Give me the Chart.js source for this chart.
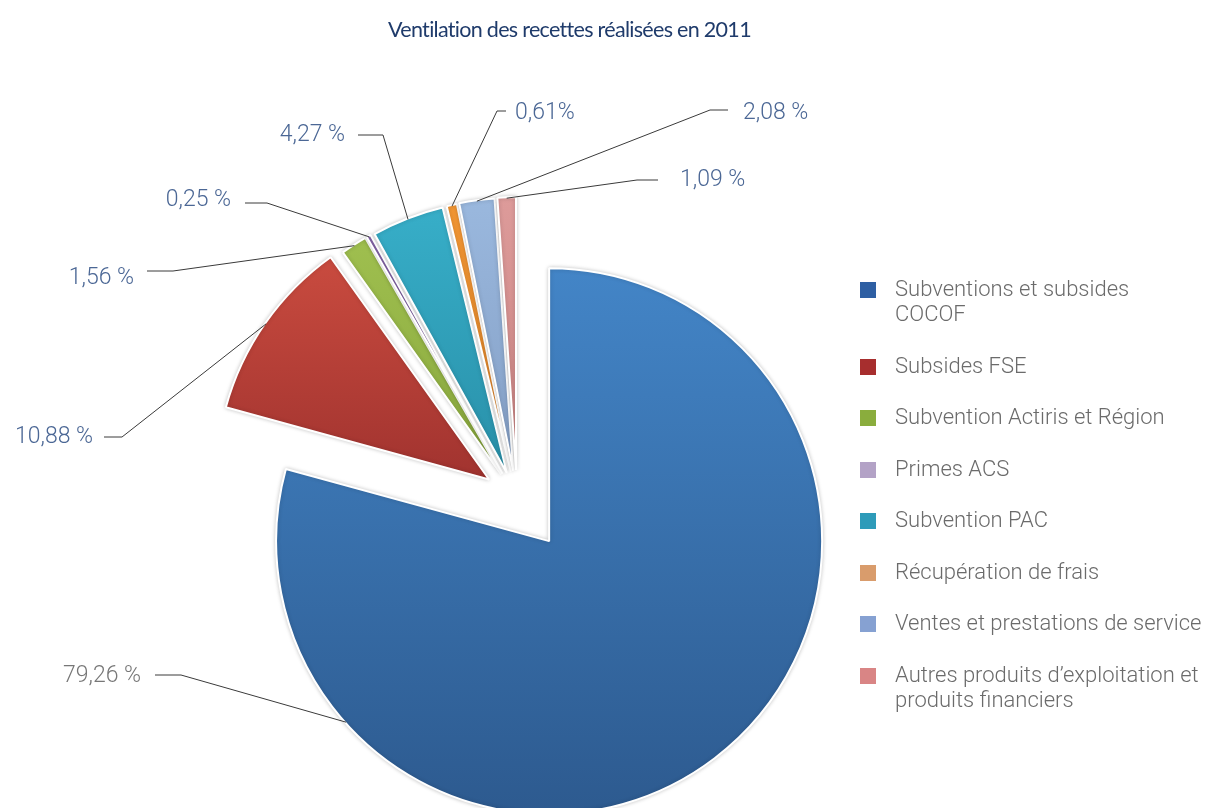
<!DOCTYPE html>
<html lang="fr">
<head>
<meta charset="utf-8">
<title>Ventilation des recettes réalisées en 2011</title>
<script src="https://cdn.jsdelivr.net/npm/chart.js@4.4.1/dist/chart.umd.min.js"></script>
<style>
    html, body { margin: 0; padding: 0; background: #fff; }
    #cadre { position: relative; width: 1207px; height: 808px; overflow: hidden; }
    #graphique { position: absolute; left: 0; top: 0; }
    #titre {
        position: absolute; left: 0; top: 16px; width: 1139px;
        text-align: center; font-family: Lato, sans-serif; font-size: 21.5px;
        letter-spacing: -0.7px; line-height: 26px; color: #1f3b6b;
    }
    #legende {
        position: absolute; left: 860px; top: 276px; margin: 0; padding: 0;
        list-style: none; font-family: Roboto, sans-serif; font-weight: 300;
        font-size: 22px; line-height: 25px; color: #6b6b6b;
    }
    #legende li { position: relative; padding-left: 35px; margin-bottom: 26.5px; white-space: nowrap; }
    #legende li span {
        position: absolute; left: 0; top: 6px; width: 16px; height: 16px;
    }
</style>
</head>
<body>
<div id="cadre">
    <canvas id="graphique" width="1207" height="808"></canvas>
    <div id="titre">Ventilation des recettes réalisées en 2011</div>
    <ul id="legende"></ul>
</div>
<script>
// Données
const categories = [
    ['Subventions et subsides', 'COCOF'],
    ['Subsides FSE'],
    ['Subvention Actiris et Région'],
    ['Primes ACS'],
    ['Subvention PAC'],
    ['Récupération de frais'],
    ['Ventes et prestations de service'],
    ['Autres produits d\u2019exploitation et', 'produits financiers']
];
const pourcentages = [79.26, 10.88, 1.56, 0.25, 4.27, 0.61, 2.08, 1.09];
const espaces = [' ', ' ', ' ', ' ', ' ', '', ' ', ' '];

// Couleurs
const couleursHaut = ['#4385c7', '#c94b3f', '#9fbf4f', '#8767ab', '#37aec8', '#f29633', '#9ab8de', '#dd9b9a'];
const couleursBas = ['#2d5a8f', '#a1332f', '#89a83d', '#6a4d8c', '#2990a9', '#e1852a', '#849fc5', '#cb8483'];
const couleursLegende = ['#2e5fa3', '#a72e2e', '#8aad3d', '#b3a2c6', '#2e9bb9', '#d99c6c', '#86a1d2', '#d98585'];

// Éclatement (décalage de chaque part, en px)
const decalages = [53, 34, 29, 29, 28, 28, 28.5, 29];

// Étiquettes : position de l'ancrage sur l'arc, coude, fin du trait, texte
const etiquettes = [
    { frac: 0.80, coudeX: 181, coudeY: 675, finX: 155, texteX: 141, texteY: 676, gauche: true, couleur: '#777777' },
    { frac: 0.5, coudeX: 122, coudeY: 437, finX: 104, texteX: 93, texteY: 437, gauche: true },
    { frac: 0.5, coudeX: 173, coudeY: 271, finX: 147, texteX: 134, texteY: 278, gauche: true },
    { frac: 0.5, coudeX: 267, coudeY: 203, finX: 245, texteX: 231, texteY: 200, gauche: true },
    { frac: 0.5, coudeX: 383, coudeY: 135, finX: 358, texteX: 345, texteY: 135, gauche: true },
    { frac: 0.5, coudeX: 497, coudeY: 111, finX: 506, texteX: 515, texteY: 113, gauche: false },
    { frac: 0.5, coudeX: 710, coudeY: 110, finX: 728, texteX: 743, texteY: 113, gauche: false },
    { frac: 0.5, coudeX: 637, coudeY: 180, finX: 658, texteX: 680, texteY: 180, gauche: false }
];

function formater(v, i) {
    return v.toFixed(2).replace('.', ',') + espaces[i] + '%';
}

function etendueY(arc) {
    const { y, startAngle, endAngle, outerRadius } = arc;
    const ys = [y, y + outerRadius * Math.sin(startAngle), y + outerRadius * Math.sin(endAngle)];
    [-Math.PI / 2, Math.PI / 2, 3 * Math.PI / 2].forEach(a => {
        if (a > startAngle && a < endAngle) ys.push(y + outerRadius * Math.sin(a));
    });
    return [Math.min(...ys), Math.max(...ys)];
}

const eclatement = {
    id: 'eclatement',
    beforeDatasetDraw(chart, args) {
        const ctx = chart.ctx;
        args.meta.data.forEach((arc, i) => {
            const milieu = (arc.startAngle + arc.endAngle) / 2;
            const d = decalages[i];
            const [y0, y1] = etendueY(arc);
            const grad = ctx.createLinearGradient(0, y0, 0, y1);
            grad.addColorStop(0, couleursHaut[i]);
            grad.addColorStop(1, couleursBas[i]);
            ctx.save();
            ctx.translate(Math.cos(milieu) * d, Math.sin(milieu) * d);
            ctx.shadowColor = 'rgba(0,0,0,0.2)';
            ctx.shadowBlur = 4;
            const opts = arc.options;
            arc.options = { ...opts, backgroundColor: grad };
            arc.draw(ctx);
            arc.options = opts;
            ctx.restore();
        });
        return false;
    },
    afterDatasetsDraw(chart) {
        const ctx = chart.ctx;
        const arcs = chart.getDatasetMeta(0).data;
        ctx.save();
        ctx.font = '300 23px Roboto';
        ctx.textBaseline = 'middle';
        arcs.forEach((arc, i) => {
            const e = etiquettes[i];
            const milieu = (arc.startAngle + arc.endAngle) / 2;
            const ang = arc.startAngle + e.frac * (arc.endAngle - arc.startAngle);
            const r = arc.outerRadius - 1;
            const ax = arc.x + Math.cos(ang) * r + Math.cos(milieu) * decalages[i];
            const ay = arc.y + Math.sin(ang) * r + Math.sin(milieu) * decalages[i];
            ctx.strokeStyle = '#3a3a3a';
            ctx.lineWidth = 1;
            ctx.beginPath();
            ctx.moveTo(ax, ay);
            ctx.lineTo(e.coudeX, e.coudeY);
            ctx.lineTo(e.finX, e.coudeY);
            ctx.stroke();
            ctx.fillStyle = e.couleur || '#4b6795';
            ctx.textAlign = e.gauche ? 'right' : 'left';
            ctx.fillText(formater(pourcentages[i], i), e.texteX, e.texteY);
        });
        ctx.restore();
    }
};

const ctx = document.getElementById('graphique').getContext('2d');
new Chart(ctx, {
    type: 'pie',
    data: {
        labels: categories,
        datasets: [{
            data: pourcentages,
            backgroundColor: couleursHaut,
            borderColor: '#ffffff',
            borderWidth: 2
        }]
    },
    options: {
        responsive: false,
        devicePixelRatio: 1,
        animation: false,
        events: [],
        radius: 273,
        layout: { padding: { left: 0, right: 173, top: 190, bottom: 0 } },
        plugins: {
            legend: { display: false },
            title: { display: false },
            tooltip: { enabled: false }
        }
    },
    plugins: [eclatement]
});

// Légende
const legende = document.getElementById('legende');
categories.forEach((lignes, i) => {
    const li = document.createElement('li');
    li.innerHTML = `<span style="background:${couleursLegende[i]}"></span>${lignes.join('<br>')}`;
    legende.appendChild(li);
});
</script>
</body>
</html>
